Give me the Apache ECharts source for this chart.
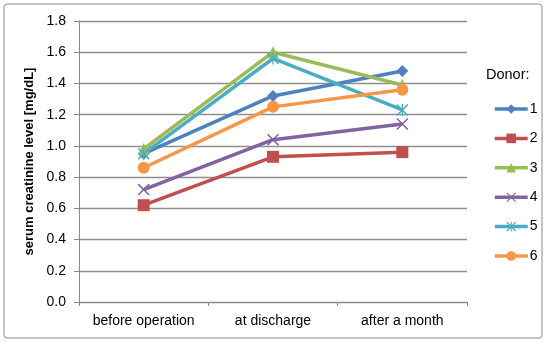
<!DOCTYPE html>
<html><head><meta charset="utf-8">
<script src="https://cdn.jsdelivr.net/npm/echarts@6/dist/echarts.min.js"></script>
<style>html,body{margin:0;padding:0;background:#fff}#c{width:550px;height:344px}</style>
</head><body><div id="c"></div>
<script>
const categories = ['before operation', 'at discharge', 'after a month'];
const yTicks = [0, 0.2, 0.4, 0.6, 0.8, 1.0, 1.2, 1.4, 1.6, 1.8];
const donorNames = ['1', '2', '3', '4', '5', '6'];
const donor1 = [0.95, 1.32, 1.48];
const donor2 = [0.62, 0.93, 0.96];
const donor3 = [0.98, 1.60, 1.39];
const donor4 = [0.72, 1.04, 1.14];
const donor5 = [0.95, 1.56, 1.23];
const donor6 = [0.86, 1.25, 1.36];

const seriesData = [donor1, donor2, donor3, donor4, donor5, donor6];
const colors = ['#4F81BD', '#C0504D', '#9BBB59', '#8064A2', '#4BACC6', '#F79646'];
const xPath = 'path://M0,0.9 L0.9,0 L10,9.1 L9.1,10 Z M9.1,0 L10,0.9 L0.9,10 L0,9.1 Z';
const starPath = 'path://M0,0.9 L0.9,0 L10,9.1 L9.1,10 Z M9.1,0 L10,0.9 L0.9,10 L0,9.1 Z M4.45,0 L5.55,0 L5.55,10 L4.45,10 Z';
const symbols = ['diamond', 'rect', 'triangle', xPath, starPath, 'circle'];
const sizes = [12, 12, 12, 12, 12, 12];
const font = 'Liberation Sans, Arial, sans-serif';

const chart = echarts.init(document.getElementById('c'));
chart.setOption({
  animation: false,
  color: colors,
  textStyle: { fontFamily: font },
  graphic: [
    { type: 'rect', shape: { x: 4, y: 4, width: 538, height: 334, r: 3 },
      style: { fill: 'none', stroke: '#8a8a8a', lineWidth: 1 }, z: 0 },
    { type: 'text', left: 486, top: 67,
      style: { text: 'Donor:', font: '14.5px ' + font, fill: '#000' } }
  ],
  grid: { left: 79, right: 83, top: 21, bottom: 42 },
  legend: {
    orient: 'vertical', left: 488, top: 97,
    itemWidth: 33, itemHeight: 12, itemGap: 15.4,
    lineStyle: { width: 3.5 },
    textStyle: { fontSize: 14, color: '#000', fontFamily: font, padding: [0, 0, 0, -3] },
    data: donorNames
  },
  xAxis: {
    type: 'category', data: categories, boundaryGap: true,
    axisLine: { lineStyle: { color: '#8a8a8a', width: 1 } },
    axisTick: { show: true, length: 4, lineStyle: { color: '#8a8a8a' } },
    axisLabel: { color: '#000', fontSize: 14, margin: 12, fontFamily: font, interval: 0 }
  },
  yAxis: {
    type: 'value', min: 0, max: 1.8, interval: 0.2,
    name: 'serum creatinine level [mg/dL]', nameLocation: 'middle', nameGap: 42,
    nameTextStyle: { fontWeight: 'bold', fontSize: 13, color: '#000', fontFamily: font },
    axisLine: { show: true, lineStyle: { color: '#8a8a8a', width: 1 } },
    axisTick: { show: true, length: 5, lineStyle: { color: '#8a8a8a' } },
    axisLabel: { color: '#000', fontSize: 14, margin: 13, fontFamily: font,
      formatter: v => v.toFixed(1) },
    splitLine: { lineStyle: { color: '#8f8f8f', width: 1.3 } }
  },
  series: donorNames.map((n, i) => ({
    name: n, type: 'line', data: seriesData[i],
    symbol: symbols[i], symbolSize: sizes[i], showAllSymbol: true,
    lineStyle: { width: 3.5, color: colors[i] },
    itemStyle: { color: colors[i], borderWidth: 0 }
  }))
});
</script></body></html>
